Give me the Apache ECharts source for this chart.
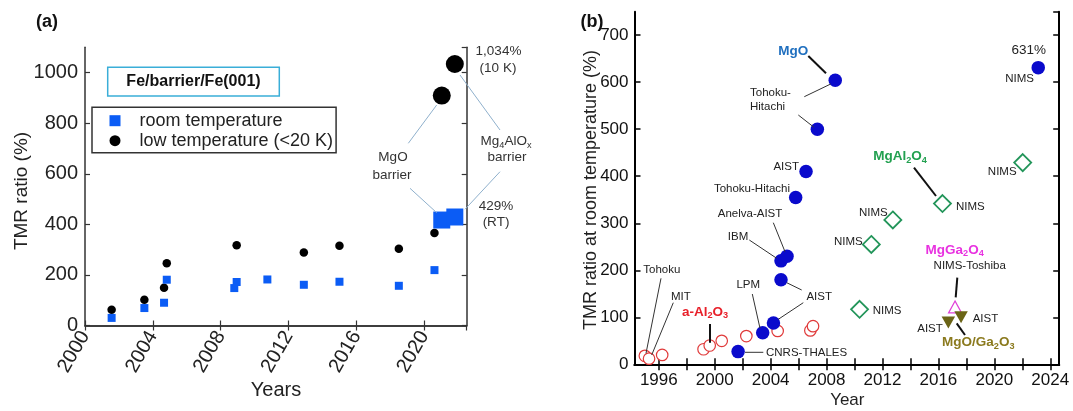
<!DOCTYPE html>
<html>
<head>
<meta charset="utf-8">
<script src="https://cdn.jsdelivr.net/npm/echarts@6/dist/echarts.min.js"></script>
<style>html,body{margin:0;padding:0;background:#fff}#c{width:1073px;height:411px}</style>
</head>
<body>
<div id="c"></div>
<script>
// ---------- Panel (a) data ----------
var rtYears = [2001.57, 2003.5, 2004.66, 2004.82, 2008.8, 2008.94, 2010.75, 2012.9, 2015.0, 2018.5, 2020.6, 2021.03, 2021.8];
var rtTMR   = [30, 69, 90, 181, 148, 172, 182, 161, 173, 157, 219, 417, 429];
var ltYears = [2001.57, 2003.5, 2004.66, 2004.82, 2008.94, 2012.9, 2015.0, 2018.5, 2020.6, 2021.03, 2021.8];
var ltTMR   = [62, 102, 149, 246, 317, 289, 315, 303, 366, 909, 1034];
var aXTicks = [2000, 2004, 2008, 2012, 2016, 2020];
var aYTicks = [0, 200, 400, 600, 800, 1000];

// ---------- Panel (b) data ----------
var mgoYears   = [2001.67, 2003.43, 2004.2, 2004.74, 2004.74, 2005.17, 2005.79, 2006.53, 2007.34, 2008.62, 2023.14];
var mgoTMR     = [27, 67, 88, 180, 220, 230, 355, 410, 500, 604, 631];
var alYears    = [1995.0, 1995.3, 1996.24, 1999.2, 1999.64, 2000.5, 2002.26, 2004.5, 2006.84, 2007.03];
var alTMR      = [18, 12, 20, 32, 40, 50, 60, 71, 72, 81];
var spinelYears= [2010.36, 2011.2, 2012.74, 2016.29, 2022.03];
var spinelTMR  = [117, 255, 307, 342, 429];
var mgGaYears  = [2017.19];
var mgGaTMR    = [122];
var mgoGaYears = [2016.71, 2017.62];
var mgoGaTMR   = [89, 100];
var bXLabels = [1996, 2000, 2004, 2008, 2012, 2016, 2020, 2024];
var bXTicks  = [1996, 1998, 2000, 2002, 2004, 2006, 2008, 2010, 2012, 2014, 2016, 2018, 2020, 2022, 2024];

function pairs(xs, ys){ return xs.map(function(x,i){ return [x, ys[i]]; }); }
function plain(v){ return String(v); }

var FF = 'Liberation Sans, Arial, Helvetica, sans-serif';
var chart = echarts.init(document.getElementById('c'), null, {renderer:'canvas'});

var aLine = {show:true, lineStyle:{color:'#333', width:1.5}};
var bLine = {show:true, lineStyle:{color:'#000', width:2}};

function txt(t, x, y, opt){
  opt = opt || {};
  return {type:'text', x:x, y:y, rotation: opt.rot || 0, z:100, silent:true,
    style:{text:t, fill: opt.color || '#222', font: (opt.weight||'normal') + ' ' + (opt.size||11.5) + 'px ' + FF,
      textAlign: opt.align || 'center', textVerticalAlign:'middle'}};
}
function rich(parts, x, y, color, size){
  var s = '';
  parts.forEach(function(p){ s += p[1] ? '{s|' + p[0] + '}' : '{m|' + p[0] + '}'; });
  return {type:'text', x:x, y:y, z:100, silent:true,
    style:{text:s, textAlign:'center', textVerticalAlign:'middle',
      rich:{
        m:{fontSize:size, fontWeight: color ? 'bold' : 'normal', fontFamily:FF, fill: color || '#333', lineHeight:16},
        s:{fontSize:size*0.68, fontWeight: color ? 'bold' : 'normal', fontFamily:FF, fill: color || '#333', lineHeight:8, verticalAlign:'bottom'}
      }}};
}
function seg(x1,y1,x2,y2,color,w){
  return {type:'line', z:90, silent:true, shape:{x1:x1,y1:y1,x2:x2,y2:y2}, style:{stroke:color, lineWidth:w}};
}

var graphics = [
  // panel a
  {type:'rect', z:100, silent:true, shape:{x:107.7, y:67.3, width:171.6, height:28.7}, style:{fill:'#fff', stroke:'#3aaed8', lineWidth:1.5}},
  txt('Fe/barrier/Fe(001)', 193.5, 82, {weight:'bold', size:16, color:'#111'}),
  txt('(a)', 47, 21.7, {weight:'bold', size:18, color:'#111'}),
  txt('TMR ratio (%)', 21.5, 191, {size:19, rot:Math.PI/2}),
  txt('Years', 276, 390, {size:20}),
  txt('1,034%', 498.5, 51.7, {size:13.5, color:'#333'}),
  txt('(10 K)', 498, 68.3, {size:13.5, color:'#333'}),
  rich([['Mg'],['4',1],['AlO'],['x',1]], 506, 141.7, null, 13.5),
  txt('barrier', 507, 157, {size:13.5, color:'#333'}),
  txt('429%', 496, 206.7, {size:13.5, color:'#333'}),
  txt('(RT)', 496, 222.7, {size:13.5, color:'#333'}),
  txt('MgO', 393, 157.3, {size:13.5, color:'#333'}),
  txt('barrier', 392, 175, {size:13.5, color:'#333'}),
  seg(408.3,143.3,436.7,105,'#8fb0cc',1),
  seg(410,188.3,436.7,212.7,'#8fb0cc',1),
  seg(500,130,460,75,'#8fb0cc',1),
  seg(500,171.7,465,209.3,'#8fb0cc',1),
  // panel b
  txt('(b)', 592, 21.7, {weight:'bold', size:18, color:'#111'}),
  txt('TMR ratio at room temperature (%)', 591, 190, {size:18, rot:Math.PI/2}),
  txt('Year', 847.3, 400.7, {size:17}),
  txt('Tohoku-', 750, 92.7, {align:'left'}),
  txt('Hitachi', 750, 106.7, {align:'left'}),
  txt('AIST', 799, 166.7, {align:'right'}),
  txt('Tohoku-Hitachi', 790, 189.3, {align:'right'}),
  txt('Anelva-AIST', 750, 214.3),
  txt('IBM', 738, 236.7),
  txt('LPM', 748.3, 285),
  txt('AIST', 819.2, 297.3),
  txt('CNRS-THALES', 766, 352.7, {align:'left'}),
  txt('Tohoku', 643.3, 270, {align:'left'}),
  txt('MIT', 671, 296.7, {align:'left'}),
  txt('631%', 1028.8, 50, {size:13.5}),
  txt('NIMS', 1019.5, 79.3),
  txt('NIMS', 956, 206.7, {align:'left'}),
  txt('NIMS', 1002.2, 171.7),
  txt('NIMS', 873.3, 212.7),
  txt('NIMS', 848.3, 241.7),
  txt('NIMS', 872.7, 311, {align:'left'}),
  txt('NIMS-Toshiba', 969.7, 265.7),
  txt('AIST', 930, 329.3),
  txt('AIST', 972.7, 319, {align:'left'}),
  rich([['MgO']], 793.3, 51.7, '#1f6fbf', 13.5),
  rich([['a-Al'],['2',1],['O'],['3',1]], 705, 312.3, '#e8202a', 13.5),
  rich([['MgAl'],['2',1],['O'],['4',1]], 900, 156.7, '#22a050', 13.5),
  rich([['MgGa'],['2',1],['O'],['4',1]], 954.7, 250, '#e832e0', 13.5),
  rich([['MgO/Ga'],['2',1],['O'],['3',1]], 978.3, 342.7, '#8b7a1e', 13.5),
  seg(804.3,96.7,830.7,84,'#333',1),
  seg(798.3,115,814,127.3,'#333',1),
  seg(773.3,222.7,785,251.7,'#333',1),
  seg(749.3,240,776.7,258.3,'#333',1),
  seg(752.3,294,760,328.3,'#333',1),
  seg(801.7,290,786.7,282.7,'#333',1),
  seg(803.3,302.7,778.3,319.3,'#333',1),
  seg(745,352.3,763.3,352.3,'#333',1),
  seg(661,278.3,646,353.3,'#333',1),
  seg(673.3,302.7,651.7,355,'#333',1),
  seg(808.3,56,826,73.3,'#111',2),
  seg(710,324,710,342.7,'#111',2),
  seg(914,167.7,936,196,'#111',2),
  seg(957.3,277.7,955.7,297.3,'#111',2),
  seg(956.7,323.3,965,335,'#111',2)
];

var aTick = {show:true, inside:true, length:5, lineStyle:{color:'#333', width:1.2}};
var bTick = {show:true, inside:true, length:6, lineStyle:{color:'#000', width:1.5}};

var option = {
  animation:false,
  textStyle:{fontFamily:FF},
  grid:[
    {left:85, top:47.3, width:381.7, height:278.2},
    {left:634.5, top:11.7, width:424.7, height:352.6}
  ],
  legend:{
    left:92, top:107.3, orient:'vertical', selectedMode:false,
    data:[{name:'room temperature', icon:'rect'}, {name:'low temperature (<20 K)', icon:'circle'}],
    itemWidth:11, itemHeight:11, itemGap:2, padding:[4.4, 3, 3, 17.5],
    borderColor:'#333', borderWidth:1.5, backgroundColor:'#fff',
    textStyle:{fontSize:18, color:'#222', fontFamily:FF, padding:[0,0,0,14]}
  },
  xAxis:[
    {gridIndex:0, type:'value', min:aXTicks[0], max:2022.5, interval:4, axisLine:aLine, axisTick:aTick, splitLine:{show:false},
      axisLabel:{rotate:60, fontSize:20, color:'#222', margin:7, showMaxLabel:false, fontFamily:FF, formatter:plain}},
    {gridIndex:0, type:'value', position:'top', min:aXTicks[0], max:2022.5, interval:4, axisLine:aLine, axisTick:aTick, splitLine:{show:false}, axisLabel:{show:false}},
    {gridIndex:1, type:'value', min:1994.26, max:2024.64, axisLine:bLine, splitLine:{show:false},
      axisTick:Object.assign({customValues:bXTicks}, bTick),
      axisLabel:{customValues:bXLabels, fontSize:17, color:'#111', margin:8, fontFamily:FF, formatter:plain}},
    {gridIndex:1, type:'value', position:'top', min:1994.26, max:2024.64, axisLine:bLine, splitLine:{show:false},
      axisTick:Object.assign({customValues:bXTicks}, bTick), axisLabel:{show:false}}
  ],
  yAxis:[
    {gridIndex:0, type:'value', min:aYTicks[0], max:1100, interval:200, axisLine:aLine, axisTick:aTick, splitLine:{show:false},
      axisLabel:{fontSize:20, color:'#222', margin:7, showMaxLabel:false, fontFamily:FF, formatter:plain}},
    {gridIndex:0, type:'value', position:'right', min:aYTicks[0], max:1100, interval:200, axisLine:aLine, axisTick:aTick, splitLine:{show:false}, axisLabel:{show:false}},
    {gridIndex:1, type:'value', min:0, max:750, interval:100, axisLine:bLine, axisTick:bTick, splitLine:{show:false},
      axisLabel:{fontSize:17, color:'#111', margin:6, showMaxLabel:false, fontFamily:FF, formatter:plain}},
    {gridIndex:1, type:'value', position:'right', min:0, max:750, interval:100, axisLine:bLine, axisTick:bTick, splitLine:{show:false}, axisLabel:{show:false}}
  ],
  series:[
    {name:'low temperature (<20 K)', type:'scatter', xAxisIndex:0, yAxisIndex:0, symbol:'circle',
      symbolSize:function(v,p){ return p.dataIndex >= ltTMR.length-2 ? 18 : 8.5; },
      itemStyle:{color:'#000', opacity:1}, data:pairs(ltYears, ltTMR), z:3},
    {name:'room temperature', type:'scatter', xAxisIndex:0, yAxisIndex:0, symbol:'rect',
      symbolSize:function(v,p){ return p.dataIndex >= rtTMR.length-2 ? 17 : 8; },
      itemStyle:{color:'#0b5cf5', opacity:1}, data:pairs(rtYears, rtTMR), z:4},
    {name:'a-Al2O3', type:'scatter', xAxisIndex:2, yAxisIndex:2, symbol:'circle', symbolSize:11.5,
      itemStyle:{color:'#fff', borderColor:'#e03a3a', borderWidth:1.2, opacity:1}, data:pairs(alYears, alTMR), z:3},
    {name:'MgO', type:'scatter', xAxisIndex:2, yAxisIndex:2, symbol:'circle', symbolSize:13.5,
      itemStyle:{color:'#0a0acc', opacity:1}, data:pairs(mgoYears, mgoTMR), z:4},
    {name:'MgAl2O4', type:'scatter', xAxisIndex:2, yAxisIndex:2, symbol:'diamond', symbolSize:[17,17],
      itemStyle:{color:'rgba(255,255,255,0)', borderColor:'#23955a', borderWidth:1.8, opacity:1}, data:pairs(spinelYears, spinelTMR), z:4},
    {name:'MgGa2O4', type:'scatter', xAxisIndex:2, yAxisIndex:2, symbol:'triangle', symbolSize:[13,12],
      itemStyle:{color:'#fff', borderColor:'#e040d8', borderWidth:1.2, opacity:1}, data:pairs(mgGaYears, mgGaTMR), z:4},
    {name:'MgO/Ga2O3', type:'scatter', xAxisIndex:2, yAxisIndex:2, symbol:'triangle', symbolRotate:180, symbolSize:[13.5,12],
      itemStyle:{color:'#6b6416', opacity:1}, data:pairs(mgoGaYears, mgoGaTMR), z:4}
  ],
  graphic:graphics
};
chart.setOption(option);
</script>
</body>
</html>
